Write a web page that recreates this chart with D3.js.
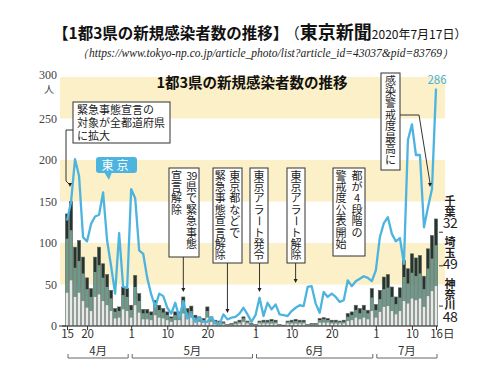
<!DOCTYPE html>
<html>
<head>
<meta charset="utf-8">
<script src="https://cdn.jsdelivr.net/npm/d3@7"></script>
<style>
body { margin:0; background:#fff; }
svg text { font-family: "Noto Sans CJK JP", "Noto Sans", sans-serif; }
</style>
</head>
<body>
<div id="graph"></div>
<script>
// daily counts, 2020-04-15 .. 2020-07-16
var tokyo = [127,149,201,181,107,102,123,132,134,161,103,72,39,112,47,46,
  165,154,91,87,58,38,23,39,36,22,15,28,10,30,9,14,5,10,5,5,11,3,2,14,8,10,11,15,22,14,5,
  13,34,12,28,20,26,14,13,12,18,22,25,24,47,48,27,16,41,35,39,35,29,31,55,48,54,57,60,58,54,
  67,107,124,131,111,102,106,75,224,243,206,206,119,143,165,286]
var kanagawa = [40,55,35,40,30,22,18,35,38,30,25,18,9,10,20,18,
  10,25,16,8,8,7,13,10,9,7,5,7,7,15,9,10,6,5,4,10,5,3,3,2,1,1,2,3,5,3,1,
  1,3,3,3,3,3,1,1,3,3,3,3,3,1,1,1,4,4,4,3,3,3,3,6,7,10,8,10,8,18,
  10,17,23,24,18,14,18,30,27,33,31,33,23,36,42,48]
var saitama = [65,60,35,38,33,22,17,30,35,28,22,15,8,8,17,17,
  9,22,14,7,7,6,11,9,7,6,4,6,6,12,7,8,4,4,3,8,4,3,2,2,1,1,2,2,4,2,1,
  1,2,2,2,3,2,1,0,2,2,3,2,2,1,1,1,3,4,3,2,2,2,2,5,6,9,7,9,7,16,
  9,15,21,22,17,12,16,29,24,31,29,30,21,33,39,49]
var chiba = [30,35,25,25,20,14,10,18,22,17,15,10,4,5,10,10,
  6,14,9,5,5,4,7,6,5,4,2,4,4,8,5,6,3,2,2,5,2,1,1,1,0,1,1,2,2,1,1,
  0,1,2,2,2,2,0,0,1,2,2,2,2,0,1,1,2,2,2,2,2,1,2,4,4,6,6,6,4,11,
  7,11,15,16,12,9,12,20,18,23,22,22,16,24,28,32]
var yTicks = [0,50,100,150,200,250,300]
var xTickDays = ["2020-04-15","2020-04-20","2020-05-01","2020-05-10","2020-05-20","2020-06-01","2020-06-10","2020-06-20","2020-07-01","2020-07-10","2020-07-16"]
var months = [["4月","2020-04-15","2020-04-30"],["5月","2020-05-01","2020-05-31"],["6月","2020-06-01","2020-06-30"],["7月","2020-07-01","2020-07-16"]]
// columns are listed right to left, one token per vertical slot
var notes = [
  {date:"2020-05-14", cols:[["39","県","で","緊","急","事","態"],["宣","言","解","除"]], x:169, y:168, w:30, h:89, tip:292},
  {date:"2020-05-25", cols:[["東","京","都","な","ど","で"],["緊","急","事","態","宣","言","解","除"]], x:213, y:168, w:29, h:95, tip:313},
  {date:"2020-06-02", cols:[["東","京","ア","ラ","ー","ト","発","令"]], x:250, y:168, w:18, h:95, tip:292},
  {date:"2020-06-11", cols:[["東","京","ア","ラ","ー","ト","解","除"]], x:287, y:168, w:18, h:95, tip:283},
  {date:null, cols:[["都","が","4","段","階","の"],["警","戒","度","公","表","開","始"]], x:333, y:168, w:32, h:88},
  {date:null, cols:[["感","染","警","戒","度","最","高","に"]], x:381, y:73, w:19, h:97}
]

var width = 500, height = 375
var parse = d3.timeParse("%Y-%m-%d")
var days = d3.timeDay.range(parse("2020-04-15"), parse("2020-07-17"))
var svg = d3.select("#graph").append("svg").attr("width", width).attr("height", height)

var x = d3.scaleTime().domain([parse("2020-04-15"), parse("2020-07-16")]).range([67, 436])
var y = d3.scaleLinear().domain([0, 300]).range([326, 77])

// header
var head = svg.append("text").attr("x", 53).attr("y", 39).attr("fill", "#111")
head.append("tspan").attr("font-size", 15.5).attr("font-weight", "bold").text("【1都3県の新規感染者数の推移】")
head.append("tspan").attr("font-size", 15).attr("dx", 4).text("（")
head.append("tspan").attr("font-size", 18).attr("font-weight", "bold").text("東京新聞")
head.append("tspan").attr("font-size", 12).text("2020年7月17日）")
svg.append("text").attr("x", 77).attr("y", 57).attr("font-size", 11.5)
  .style("font-family", "'Liberation Serif', serif").style("font-style", "italic").attr("fill", "#222")
  .text("（https://www.tokyo-np.co.jp/article_photo/list?article_id=43037&pid=83769）")

// bands
var bands = [[250,300],[150,200],[50,100]]
svg.append("g").selectAll("rect").data(bands).enter().append("rect")
  .attr("x", 60).attr("width", 385)
  .attr("y", function(d){ return y(d[1]) }).attr("height", function(d){ return y(d[0]) - y(d[1]) })
  .attr("fill", "#fbf0c8")

svg.append("text").attr("x", 252).attr("y", 88).attr("text-anchor", "middle")
  .attr("font-size", 14.5).attr("font-weight", "bold").attr("fill", "#111").text("1都3県の新規感染者数の推移")

// y axis labels
var yAxis = svg.append("g").attr("transform", "translate(57,0)")
  .call(d3.axisLeft(y).tickValues(yTicks).tickSize(0).tickPadding(0))
yAxis.select(".domain").remove()
yAxis.selectAll("text").attr("font-size", 12).attr("fill", "#444")
  .style("font-family", "'Liberation Serif', serif").attr("dy", "0.3em")
yAxis.selectAll(".tick").filter(function(d){ return d == 300 }).select("text").attr("dy", "0.1em")
svg.append("text").attr("x", 49).attr("y", 93).attr("text-anchor", "middle").attr("font-size", 10).attr("fill", "#444").text("人")
svg.append("line").attr("x1", 59).attr("x2", 66).attr("y1", y(0)).attr("y2", y(0)).attr("stroke", "#333")

// stacked bars
var stackData = days.map(function(d, i){ return {date:d, kanagawa:kanagawa[i], saitama:saitama[i], chiba:chiba[i]} })
var stack = d3.stack().keys(["kanagawa","saitama","chiba"])(stackData)
var colors = {kanagawa:"#e6ebe7", saitama:"#6a9b8b", chiba:"#24342e"}
svg.append("g").selectAll("g").data(stack).enter().append("g")
  .attr("fill", function(s){ return colors[s.key] })
  .selectAll("rect").data(function(s){ return s }).enter().append("rect")
  .attr("x", function(d){ return x(d.data.date) - 1.6 })
  .attr("width", 3.2)
  .attr("y", function(d){ return y(d[1]) })
  .attr("height", function(d){ return y(d[0]) - y(d[1]) })
// bar outlines
svg.append("g").selectAll("rect").data(stackData).enter().append("rect")
  .attr("x", function(d){ return x(d.date) - 1.6 }).attr("width", 3.2)
  .attr("y", function(d){ return y(d.kanagawa + d.saitama + d.chiba) })
  .attr("height", function(d){ return y(0) - y(d.kanagawa + d.saitama + d.chiba) })
  .attr("fill", "none").attr("stroke", "#5d6661").attr("stroke-width", 0.6)

// tokyo line
var line = d3.line().x(function(d, i){ return x(days[i]) }).y(function(d){ return y(d) })
svg.append("path").datum(tokyo).attr("d", line).attr("fill", "none")
  .attr("stroke", "#4db3df").attr("stroke-width", 2.3).attr("stroke-linejoin", "round")

// x axis
svg.append("line").attr("x1", 62).attr("x2", 438).attr("y1", y(0)).attr("y2", y(0)).attr("stroke", "#333")
var xAxis = svg.append("g").attr("transform", "translate(0," + y(0) + ")")
  .call(d3.axisBottom(x).tickValues(xTickDays.map(parse)).tickSize(4).tickPadding(0)
    .tickFormat(function(d){ return d3.timeFormat("%-d")(d) }))
xAxis.select(".domain").remove()
xAxis.selectAll("line").attr("stroke", "#333")
xAxis.selectAll("text").attr("font-size", 11.5).attr("fill", "#333")
xAxis.selectAll("text").filter(function(d){ return d3.timeFormat("%m-%d")(d) == "07-16" }).text("16日").attr("dx", "0.5em")

var mg = svg.append("g")
months.forEach(function(m){
  var a = x(parse(m[1])) + 1, b = x(parse(m[2])) + 1
  mg.append("text").attr("x", (a + b) / 2).attr("y", 355).attr("text-anchor", "middle")
    .attr("font-size", 11.5).attr("fill", "#333").text(m[0])
  mg.append("path").attr("d", "M" + a + ",354V358H" + b + "V354").attr("fill", "none").attr("stroke", "#666").attr("stroke-width", 1)
})

// annotations
var ag = svg.append("g")
function arrowHead(px, py){
  ag.append("path").attr("d", "M" + (px - 2) + "," + (py - 4) + "L" + (px + 2) + "," + (py - 4) + "L" + px + "," + py + "Z").attr("fill", "#222")
}
notes.forEach(function(n){
  ag.append("rect").attr("x", n.x).attr("y", n.y).attr("width", n.w).attr("height", n.h)
    .attr("fill", "#fff").attr("stroke", "#333").attr("stroke-width", 1)
  var ncol = n.cols.length
  n.cols.forEach(function(col, ci){
    var cx = n.x + n.w - (ci + 0.5) * (n.w / ncol)
    col.forEach(function(ch, k){
      var cy = n.y + 11.5 + k * 11.4
      var t = ag.append("text").attr("x", cx).attr("y", cy).attr("text-anchor", "middle")
        .attr("font-size", ch.length > 1 ? 10.5 : 11).attr("letter-spacing", ch.length > 1 ? -0.5 : 0)
        .attr("fill", "#222").text(ch)
      if (ch == "ー") t.attr("transform", "rotate(90," + cx + "," + (cy - 4) + ")")
    })
  })
  if (n.date) {
    var lx = x(parse(n.date))
    ag.append("line").attr("x1", lx).attr("x2", lx).attr("y1", n.y + n.h).attr("y2", n.tip - 3).attr("stroke", "#333")
    arrowHead(lx, n.tip)
  }
})
// 感染警戒度最高に leader
ag.append("path").attr("d", "M400,115H419L430,183").attr("fill", "none").attr("stroke", "#333")
arrowHead(430, 187)

// nationwide emergency box
ag.append("rect").attr("x", 73).attr("y", 102).attr("width", 97).attr("height", 41).attr("fill", "#fff").attr("stroke", "#333")
;["緊急事態宣言の","対象が全都道府県","に拡大"].forEach(function(s, i){
  ag.append("text").attr("x", 77).attr("y", 113.5 + i * 13).attr("font-size", 11).attr("fill", "#222").text(s)
})
ag.append("path").attr("d", "M73,130H66V181L69,184").attr("fill", "none").attr("stroke", "#333")
arrowHead(70, 187)

// 東京 label
ag.append("rect").attr("x", 96).attr("y", 157).attr("width", 41).attr("height", 16).attr("rx", 3).attr("fill", "#4db3df")
ag.append("path").attr("d", "M104,172L109,180L112,172Z").attr("fill", "#4db3df")
ag.append("text").attr("x", 116.5).attr("y", 169.5).attr("text-anchor", "middle").attr("font-size", 12)
  .attr("fill", "#fff").attr("letter-spacing", 3).text("東京")

// end labels
svg.append("text").attr("x", 437).attr("y", 84).attr("text-anchor", "middle").attr("font-size", 11.5)
  .attr("fill", "#4db3df").text(tokyo[tokyo.length - 1])
var last = stackData[stackData.length - 1]
var ends = [
  {name:["千","葉"], v:last.chiba, mid:last.kanagawa + last.saitama + last.chiba / 2, top:205},
  {name:["埼","玉"], v:last.saitama, mid:last.kanagawa + last.saitama / 2, top:246},
  {name:["神","奈","川"], v:last.kanagawa, mid:last.kanagawa / 2, top:288}
]
ends.forEach(function(e){
  e.name.forEach(function(ch, k){
    svg.append("text").attr("x", 450).attr("y", e.top + k * 10.5).attr("text-anchor", "middle")
      .attr("font-size", 11).attr("font-weight", "bold").attr("fill", "#222").text(ch)
  })
  svg.append("text").attr("x", 450).attr("y", e.top + e.name.length * 10.5 + 2).attr("text-anchor", "middle")
    .attr("font-size", 14).attr("letter-spacing", -0.5).attr("fill", "#222").text(e.v)
  svg.append("line").attr("x1", 439).attr("x2", 443).attr("y1", y(e.mid)).attr("y2", y(e.mid)).attr("stroke", "#333")
})
</script>
</body>
</html>
